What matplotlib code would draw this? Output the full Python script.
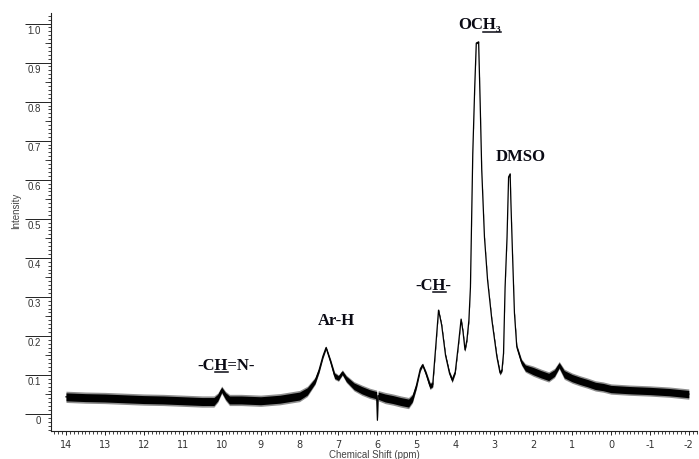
import numpy as np
import matplotlib
matplotlib.use("Agg")
import matplotlib.pyplot as plt
from matplotlib.lines import Line2D
from matplotlib.ticker import MultipleLocator
from matplotlib.transforms import ScaledTranslation

plt.rcParams["axes.unicode_minus"] = False

# 化學位移 (ppm) 與強度
ppm = [14.0, 13.5, 13.0, 12.5, 12.0, 11.5, 11.0, 10.5, 10.2, 10.1,
       10.0, 9.9, 9.8, 9.5, 9.0, 8.5, 8.0, 7.8, 7.6, 7.5,
       7.4, 7.32, 7.2, 7.1, 7.0, 6.9, 6.8, 6.6, 6.4, 6.2,
       6.02, 6.0, 5.98, 5.8, 5.6, 5.4, 5.2, 5.1, 5.0, 4.9,
       4.84, 4.75, 4.65, 4.58, 4.5, 4.43, 4.35, 4.25, 4.15, 4.08,
       4.0, 3.92, 3.85, 3.8, 3.75, 3.7, 3.65, 3.61, 3.58, 3.55,
       3.5, 3.46, 3.4, 3.36, 3.32, 3.25, 3.17, 3.06, 2.93, 2.85,
       2.8, 2.76, 2.72, 2.67, 2.63, 2.59, 2.57, 2.53, 2.48, 2.42,
       2.3, 2.2, 2.0, 1.8, 1.6, 1.45, 1.33, 1.2, 1.0, 0.8,
       0.6, 0.4, 0.2, 0.0, -0.5, -1.0, -1.5, -2.0]
intensity = [0.044, 0.042, 0.041, 0.039, 0.037, 0.036, 0.034, 0.032, 0.032, 0.042,
             0.062, 0.046, 0.036, 0.036, 0.034, 0.038, 0.046, 0.058, 0.085, 0.112,
             0.148, 0.170, 0.133, 0.098, 0.092, 0.106, 0.090, 0.071, 0.061, 0.053,
             0.048, -0.016, 0.047, 0.041, 0.037, 0.032, 0.028, 0.040, 0.072, 0.115,
             0.126, 0.103, 0.072, 0.075, 0.175, 0.266, 0.228, 0.150, 0.105, 0.087,
             0.108, 0.177, 0.243, 0.210, 0.164, 0.190, 0.240, 0.325, 0.497, 0.668,
             0.837, 0.950, 0.953, 0.796, 0.625, 0.453, 0.343, 0.241, 0.146, 0.105,
             0.113, 0.156, 0.325, 0.453, 0.607, 0.615, 0.540, 0.412, 0.259, 0.172,
             0.133, 0.118, 0.110, 0.102, 0.095, 0.105, 0.125, 0.102, 0.092, 0.085,
             0.079, 0.072, 0.069, 0.064, 0.061, 0.059, 0.056, 0.051]
# 雜訊帶的半寬
noise = [0.012, 0.012, 0.012, 0.012, 0.012, 0.012, 0.012, 0.012, 0.012, 0.010,
         0.008, 0.010, 0.012, 0.012, 0.012, 0.012, 0.012, 0.011, 0.008, 0.006,
         0.005, 0.004, 0.006, 0.008, 0.007, 0.006, 0.008, 0.010, 0.011, 0.011,
         0.011, 0.002, 0.011, 0.012, 0.012, 0.012, 0.012, 0.010, 0.007, 0.005,
         0.004, 0.006, 0.008, 0.006, 0.003, 0.003, 0.003, 0.004, 0.005, 0.006,
         0.004, 0.003, 0.003, 0.003, 0.004, 0.003, 0.003, 0.002, 0.002, 0.002,
         0.002, 0.002, 0.002, 0.002, 0.002, 0.002, 0.002, 0.003, 0.004, 0.005,
         0.004, 0.003, 0.002, 0.002, 0.002, 0.002, 0.002, 0.002, 0.003, 0.005,
         0.007, 0.009, 0.011, 0.011, 0.011, 0.010, 0.008, 0.011, 0.011, 0.011,
         0.011, 0.011, 0.011, 0.011, 0.011, 0.011, 0.011, 0.011]

# 峰的標註 (文字, ppm, 基線高度, 底線範圍)
peak_labels = ["-CH=N-", "Ar-H", "-CH-", "OCH\u2083", "DMSO"]
label_ppm = [9.89, 7.06, 4.56, 3.37, 2.31]
label_y = [0.113, 0.228, 0.318, 0.986, 0.648]
underline_span = [(2, 3), None, (2, 3), (2, 4), None]

ytick_vals = [0.0, 0.1, 0.2, 0.3, 0.4, 0.5, 0.6, 0.7, 0.8, 0.9, 1.0]
ytick_text = ["0", "0.1", "0.2", "0.3", "0.4", "0.5", "0.6", "0.7", "0.8", "0.9", "1.0"]
xtick_vals = list(range(14, -3, -1))

fig = plt.figure(figsize=(6.99, 4.59), dpi=100)
ax = fig.add_axes([51 / 699, 1 - 431 / 459, 646 / 699, 418 / 459])

x = np.array(ppm)
y = np.array(intensity)
nz = np.array(noise)
# 外圍灰邊 + 內層黑色，模擬雜訊帶
ax.fill_between(x, y - nz * 1.2, y + nz * 1.2, color="#444444", alpha=0.6, lw=0)
ax.fill_between(x, y - nz * 0.85, y + nz * 0.85, color="black", lw=0)
ax.plot(x, y, color="black", lw=0.9)

ax.set_xlim(14.385, -2.21)
ax.set_ylim(-0.0435, 1.027)

for s in ["top", "right"]:
    ax.spines[s].set_visible(False)
for s in ["left", "bottom"]:
    ax.spines[s].set_linewidth(0.8)
    ax.spines[s].set_color("#222222")

ax.set_xticks(xtick_vals)
ax.set_xticklabels([str(v) for v in xtick_vals])
ax.xaxis.set_minor_locator(MultipleLocator(0.1))
ax.tick_params(axis="x", which="major", length=3.2, width=0.7, pad=3.2,
               labelsize=7, labelcolor="#333333", color="#222222")
ax.tick_params(axis="x", which="minor", length=2.0, width=0.6, color="#222222")

# y 軸：長的主刻度線，數字放在線下方
ax.set_yticks(ytick_vals)
ax.yaxis.set_minor_locator(MultipleLocator(0.01))
ax.tick_params(axis="y", which="major", length=19, width=0.7,
               labelleft=False, color="#222222")
ax.tick_params(axis="y", which="minor", length=2.2, width=0.6, color="#222222")
mid = ax.secondary_yaxis("left")
mid.set_yticks([v + 0.05 for v in ytick_vals[:-1]])
mid.tick_params(length=4.5, width=0.6, labelleft=False, color="#222222")
mid.spines["left"].set_visible(False)

trans = ax.get_yaxis_transform() + ScaledTranslation(-0.10, -0.07, fig.dpi_scale_trans)
for v, t in zip(ytick_vals, ytick_text):
    ax.text(0, v, t, transform=trans, ha="right", va="center",
            fontsize=7, color="#333333", family="Liberation Sans")

ax.set_xlabel("Chemical Shift (ppm)", fontsize=7, color="#444444", family="Liberation Sans")
ax.xaxis.set_label_coords(0.5, -0.046)
fig.text(16 / 699, 1 - 211 / 459, "Intensity", rotation=90, ha="center", va="center",
         fontsize=7, color="#444444", family="Liberation Sans")

texts = []
for t, px, py in zip(peak_labels, label_ppm, label_y):
    texts.append(ax.text(px, py, t, ha="center", va="baseline", fontsize=12,
                         fontweight="bold", family="Liberation Serif", color="#0a0a14"))

# 在指定字元下方畫底線（以像素量測文字寬度）
fig.canvas.draw()
renderer = fig.canvas.get_renderer()
for txt, span in zip(texts, underline_span):
    if span is None:
        continue
    s = txt.get_text()
    box = txt.get_window_extent(renderer)
    probe = fig.text(0, 0, "", fontproperties=txt.get_fontproperties())
    widths = []
    for k in span:
        probe.set_text(s[:k])
        widths.append(probe.get_window_extent(renderer).width if k > 0 else 0.0)
    probe.remove()
    base_y = box.y0 + 0.21 * txt.get_fontsize() * fig.dpi / 72 - 2.0
    fig.add_artist(Line2D([box.x0 + widths[0], box.x0 + widths[1]], [base_y, base_y],
                          transform=None, lw=1.1, color="#0a0a14"))

fig.savefig("out.png", dpi=100)
